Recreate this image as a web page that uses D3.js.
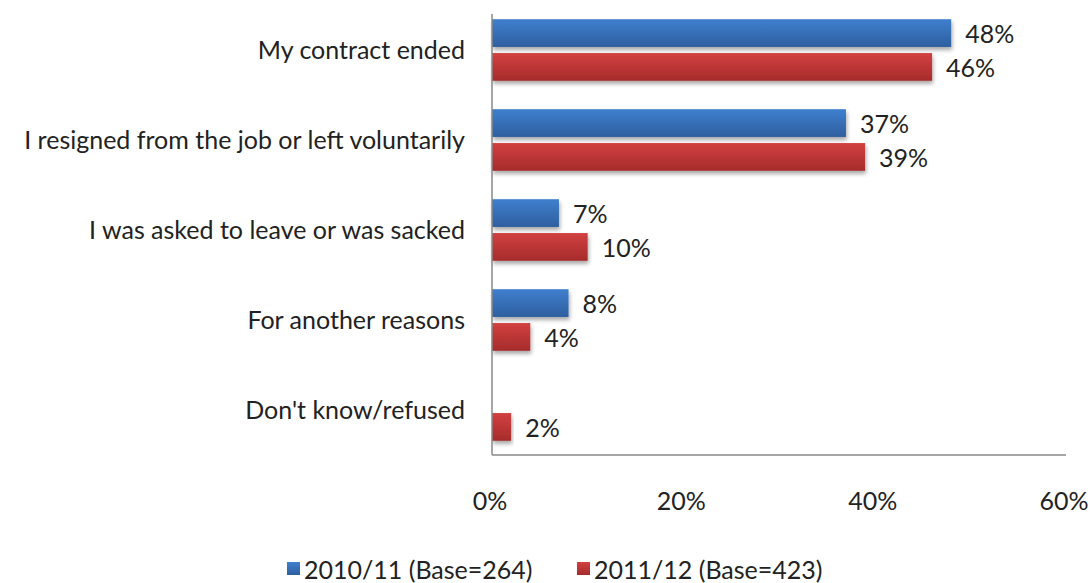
<!DOCTYPE html>
<html><head><meta charset="utf-8">
<script src="https://cdn.jsdelivr.net/npm/d3@7"></script>
<style>body{margin:0;background:#fff}svg{display:block}text{font-family:Lato,"Open Sans",sans-serif;fill:#222}</style>
</head><body>
<svg id="c" width="1092" height="583"></svg>
<script>
const categories = ["My contract ended","I resigned from the job or left voluntarily","I was asked to leave or was sacked","For another reasons","Don't know/refused"];
const series2010 = [48,37,7,8,null];
const series2011 = [46,39,10,4,2];
const seriesNames = ["2010/11 (Base=264)","2011/12 (Base=423)"];
const xTicks = [0,20,40,60];

(function(){
const svg = d3.select("#c");
const FS = 25;
const pL = 492, pR = 1066, pT = 5, pB = 455;
const x = d3.scaleLinear().domain([0,60]).range([pL,pR]);
const y = d3.scaleBand().domain(categories).range([pT,pB]).paddingInner(0).paddingOuter(0);
const inner = d3.scaleBand().domain([0,1]).range([0, y.bandwidth()]).paddingInner(0.18).paddingOuter(0.42);

const defs = svg.append("defs");
function grad(id, c1, c2){
  const g = defs.append("linearGradient").attr("id",id).attr("x1",0).attr("y1",0).attr("x2",0).attr("y2",1);
  g.append("stop").attr("offset","0%").attr("stop-color",c1);
  g.append("stop").attr("offset","100%").attr("stop-color",c2);
}
grad("gb","#3f7fce","#2e5f9f");
grad("gr","#d24140","#a62b2b");
const f = defs.append("filter").attr("id","sh").attr("x","-5%").attr("y","-20%").attr("width","115%").attr("height","160%");
f.append("feGaussianBlur").attr("in","SourceAlpha").attr("stdDeviation",2.2);
f.append("feOffset").attr("dx",1).attr("dy",3).attr("result","o");
f.append("feComponentTransfer").append("feFuncA").attr("type","linear").attr("slope",0.35);
const m = f.append("feMerge"); m.append("feMergeNode"); m.append("feMergeNode").attr("in","SourceGraphic");

const data = [series2010, series2011];
const fills = ["url(#gb)","url(#gr)"];
data.forEach((s,si)=>{
  const rows = categories.map((c,i)=>({c, v:s[i]})).filter(d=>d.v!=null);
  svg.append("g").selectAll("rect").data(rows).join("rect")
    .attr("x", x(0)).attr("y", d=>y(d.c)+inner(si))
    .attr("width", d=>x(d.v)-x(0)).attr("height", inner.bandwidth())
    .attr("fill", fills[si]).attr("filter","url(#sh)");
  svg.append("g").selectAll("text").data(rows).join("text")
    .attr("x", d=>x(d.v)+14).attr("y", d=>y(d.c)+inner(si)+inner.bandwidth()/2+1)
    .attr("dy","0.35em").attr("font-size",FS).text(d=>d.v+"%");
});

svg.append("line").attr("x1",pL).attr("x2",pL).attr("y1",14).attr("y2",pB).attr("stroke","#888").attr("stroke-width",1.5);
svg.append("line").attr("x1",pL).attr("x2",pR).attr("y1",pB).attr("y2",pB).attr("stroke","#888").attr("stroke-width",1.5);

svg.append("g").selectAll("text").data(categories).join("text")
  .attr("x",465).attr("y",d=>y(d)+y.bandwidth()/2).attr("dy","0.35em")
  .attr("text-anchor","end").attr("font-size",FS).text(d=>d);

svg.append("g").selectAll("text").data(xTicks).join("text")
  .attr("x",d=>x(d)-2).attr("y",501).attr("dy","0.35em").attr("text-anchor","middle")
  .attr("font-size",FS).text(d=>d+"%");

const leg = [{n:seriesNames[0], f:"url(#gb)", sx:287},{n:seriesNames[1], f:"url(#gr)", sx:577}];
leg.forEach(l=>{
  svg.append("rect").attr("x",l.sx).attr("y",562).attr("width",13).attr("height",13).attr("fill",l.f);
  svg.append("text").attr("x",l.sx+17).attr("y",570).attr("dy","0.35em").attr("font-size",FS).text(l.n);
});
})();
</script>
</body></html>
